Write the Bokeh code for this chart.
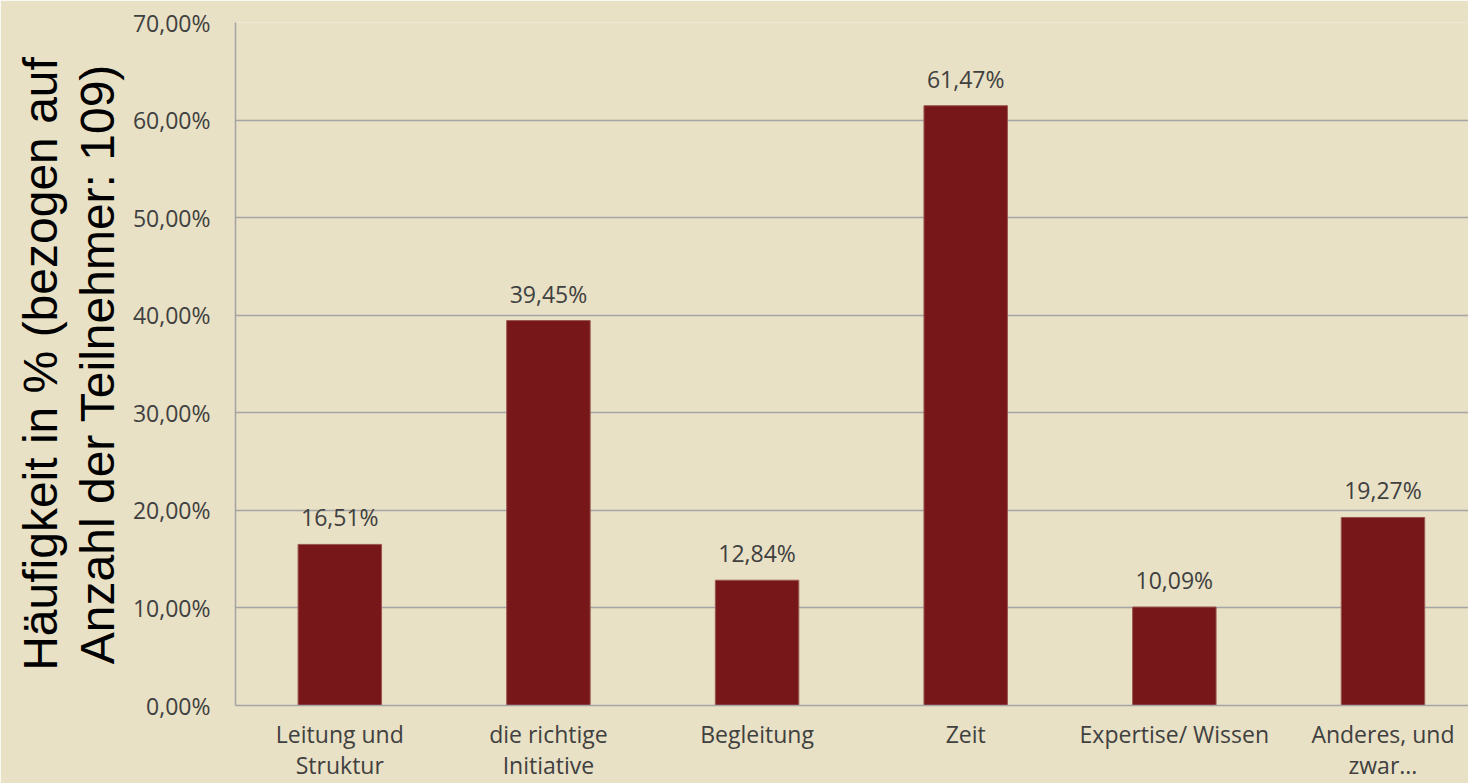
from bokeh.plotting import figure
from bokeh.models import Range1d, FixedTicker, ColumnDataSource, LabelSet
from bokeh.core.properties import value
from bokeh.embed import file_html
from bokeh.resources import INLINE

categories = ["Leitung und\nStruktur", "die richtige\nInitiative", "Begleitung", "Zeit",
              "Expertise/ Wissen", "Anderes, und\nzwar..."]
values = [16.51, 39.45, 12.84, 61.47, 10.09, 19.27]
y_ticks = [0, 10, 20, 30, 40, 50, 60, 70]
y_tick_labels = ["0,00%", "10,00%", "20,00%", "30,00%", "40,00%", "50,00%", "60,00%", "70,00%"]
y_title = "Häufigkeit in % (bezogen auf\nAnzahl der Teilnehmer: 109)"

BG = "#E8E1C5"
BAR = "#771719"
GRID = "#A5A5A5"
TXT = "#404040"

xs = list(range(len(categories)))
labels = [f"{v:.2f}".replace(".", ",") + "%" for v in values]
src = ColumnDataSource(dict(x=xs, top=values, label=labels))

p = figure(width=1468, height=783, output_backend="svg", toolbar_location=None,
           x_range=Range1d(-0.5, 5.41), y_range=Range1d(0, 70))
p.min_border_left = 235
p.min_border_right = 0
p.min_border_top = 22
p.min_border_bottom = 0
p.background_fill_color = BG
p.border_fill_color = BG
p.outline_line_color = None

p.vbar(x="x", top="top", width=0.4, source=src, fill_color=BAR, line_color="#9A5550", line_width=1)

p.add_layout(LabelSet(x="x", y="top", text="label", source=src, y_offset=18,
                      text_align="center", text_baseline="alphabetic",
                      text_font=value("Open Sans"), text_font_size=value("23px"), text_color=TXT))

p.xgrid.visible = False
p.ygrid.ticker = FixedTicker(ticks=y_ticks)
p.ygrid.grid_line_color = GRID
p.ygrid.grid_line_width = 1.5

ya = p.yaxis[0]
ya.ticker = FixedTicker(ticks=y_ticks)
ya.major_label_overrides = {t: l for t, l in zip(y_ticks, y_tick_labels)}
ya.major_tick_line_color = None
ya.minor_tick_line_color = None
ya.major_tick_out = 0
ya.major_tick_in = 0
ya.minor_tick_out = 0
ya.axis_line_color = GRID
ya.axis_line_width = 1.5
ya.major_label_standoff = 25
ya.major_label_text_font = "Open Sans"
ya.major_label_text_font_size = "23px"
ya.major_label_text_color = TXT
ya.axis_label = y_title
ya.axis_label_text_font = "Liberation Sans"
ya.axis_label_text_font_size = "48px"
ya.axis_label_text_font_style = "normal"
ya.axis_label_text_color = "#000000"
ya.axis_label_text_line_height = 1.07
ya.axis_label_standoff = 6

xa = p.xaxis[0]
xa.ticker = FixedTicker(ticks=xs)
xa.major_label_overrides = {x: c for x, c in zip(xs, categories)}
xa.major_tick_line_color = None
xa.minor_tick_line_color = None
xa.major_tick_out = 0
xa.major_tick_in = 0
xa.minor_tick_out = 0
xa.axis_line_color = GRID
xa.axis_line_width = 1.5
xa.major_label_standoff = 12
xa.major_label_text_font = "Open Sans"
xa.major_label_text_font_size = "23px"
xa.major_label_text_color = TXT
xa.major_label_text_line_height = 0.98

open("out.html", "w").write(file_html(p, INLINE).replace("<body>", '<body style="background-color:#E8E1C5;">', 1))
